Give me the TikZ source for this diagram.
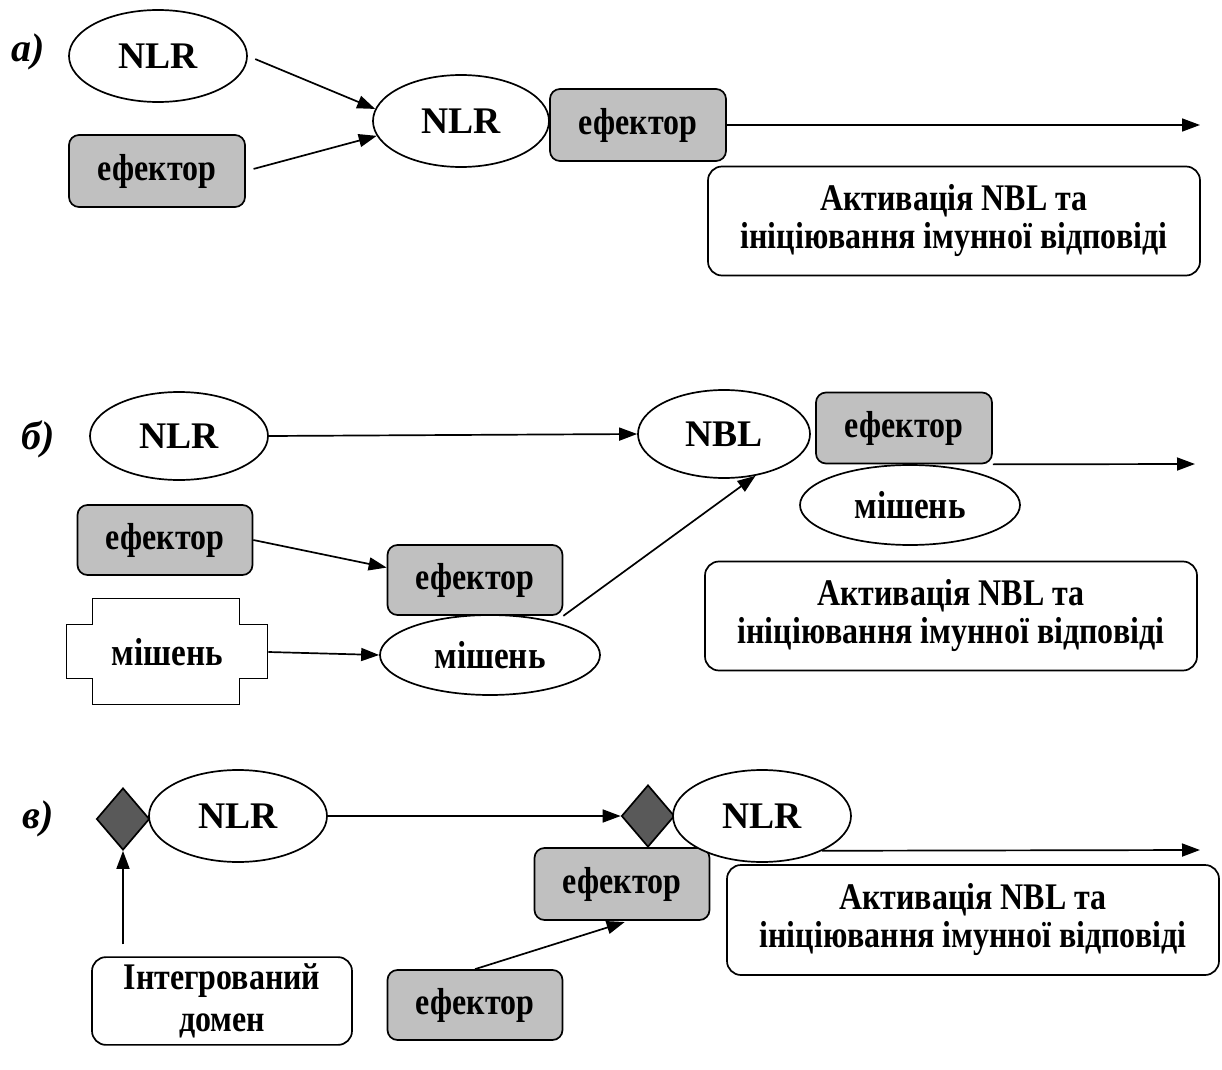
\documentclass[tikz,border=0pt]{standalone}
\usepackage{fontspec}
\setmainfont{Liberation Serif}
\newfontfamily\narrowserif[FakeStretch=0.85]{Liberation Serif}
\usetikzlibrary{arrows.meta,shapes.geometric}
\definecolor{effgray}{HTML}{C0C0C0}
\definecolor{domgray}{HTML}{595959}
\tikzset{
  oval/.style={ellipse,draw,line width=0.85pt,fill=white,minimum width=89pt,minimum height=46pt,inner sep=0pt,font=\fontsize{18.8}{20}\selectfont\bfseries},
  effbox/.style={rectangle,rounded corners=5pt,draw,line width=0.85pt,fill=effgray,minimum width=88pt,minimum height=36pt,font=\narrowserif\fontsize{18.8}{20}\selectfont\bfseries},
  resbox/.style={rectangle,rounded corners=7pt,draw,line width=0.85pt,fill=white,minimum width=246pt,minimum height=54.5pt,align=center,font=\narrowserif\fontsize{18.8}{19}\selectfont\bfseries},
  target/.style={font=\narrowserif\fontsize{19.5}{20}\selectfont\bfseries},
  idmark/.style={diamond,draw,line width=0.85pt,fill=domgray,minimum width=26.5pt,minimum height=31pt,inner sep=0pt},
  lbl/.style={font=\fontsize{20}{22}\selectfont\bfseries\itshape},
  pfeil/.style={-{Triangle[length=9pt,width=6.5pt]},line width=0.85pt}
}
\begin{document}
\begin{tikzpicture}[x=0.5pt,y=-0.5pt]
        \useasboundingbox (0,0) rectangle (1222,1070);
        %а)
        \node[lbl] (la) at (28,52) {а)};
        \node[oval] (nlrA1) at (158,56) {NLR};
        \node[effbox] (efA1) at (157,171) {ефектор};
        \node[oval,minimum width=88pt] (nlrA2) at (461,121) {NLR};
        \node[effbox] (efA2) at (638,125) {ефектор};
        \node[resbox] (resA) at (954,221) {Активація NBL та\\ініціювання імунної відповіді};
        \coordinate (endA) at (1200,125);
        \draw [pfeil][shorten <=4pt] (nlrA1.east) -- (nlrA2.172);
        \draw [pfeil][shorten <=4pt] (efA1.east) -- (nlrA2.190);
        \draw [pfeil] (efA2.east) -- (endA);

        %б)
        \node[lbl] (lb) at (38,439) {б)};
        \node[oval,minimum height=44pt] (nlrB) at (179,436) {NLR};
        \node[oval,minimum width=86pt,minimum height=44pt] (nblB) at (724,434) {NBL};
        \node[effbox,minimum height=35.5pt] (efB3) at (904,428) {ефектор};
        \node[oval,target,minimum width=110pt,minimum height=40pt] (mshB3) at (910,505) {мішень};
        \node[resbox] (resB) at (951,616) {Активація NBL та\\ініціювання імунної відповіді};
        \node[effbox,minimum width=87.5pt,minimum height=35pt] (efB1) at (165,540) {ефектор};
        \node[effbox,minimum width=87.5pt,minimum height=35pt] (efB2) at (475,580) {ефектор};
        \node[oval,target,minimum width=110pt,minimum height=40pt] (mshB2) at (490,655) {мішень};
        %хрест
        \node[rectangle,minimum width=100.5pt,minimum height=27pt,inner sep=0pt] (mshB1) at (167.5,652) {};
        \draw [line width=0.85pt,fill=white] (mshB1.north west) -- ++(26,0) -- ++(0,-26) -- ++(147,0) -- ++(0,26) -- ++(28,0)
              -- ++(0,54) -- ++(-28,0) -- ++(0,26) -- ++(-147,0) -- ++(0,-26) -- ++(-26,0) -- cycle;
        \node[target] at (mshB1) {мішень};
        \coordinate (endB) at (1195,464);
        \draw [pfeil] (nlrB.east) -- (nblB.west);
        \draw [pfeil] (efB1.east) -- (efB2.172);
        \draw [pfeil] (efB2.south east) -- (nblB.-53);
        \draw [pfeil] (efB3.south east) -- (endB);
        \draw [pfeil] (mshB1.east) -- (mshB2.west);

        %в)
        \node[lbl] (lc) at (38,819) {в)};
        \node[idmark] (domC1) at (123,819) {};
        \node[oval] (nlrC1) at (238,816) {NLR};
        \node[effbox,minimum width=87.5pt] (efC2) at (622,884) {ефектор};
        \node[idmark] (domC2) at (648,816) {};
        \node[oval] (nlrC2) at (762,816) {NLR};
        \node[effbox,minimum width=87.5pt,minimum height=35pt] (efC3) at (475,1005) {ефектор};
        \node[resbox,minimum width=130pt,minimum height=41pt,font=\narrowserif\fontsize{18.8}{21}\selectfont\bfseries] (intC) at (222,1001) {Інтегрований\\домен};
        \node[resbox,minimum height=55pt] (resC) at (973,920) {Активація NBL та\\ініціювання імунної відповіді};
        \coordinate (endC) at (1200,850);
        \draw [pfeil] (nlrC1.east) -- (domC2.west);
        \draw [pfeil][shorten <=6pt] (intC.north -| domC1.south) -- (domC1.south);
        \draw [pfeil][shorten >=2pt] (efC3.north) -- (efC2.-80);
        \draw [pfeil] (nlrC2.-30) -- (endC);
\end{tikzpicture}
\end{document}
